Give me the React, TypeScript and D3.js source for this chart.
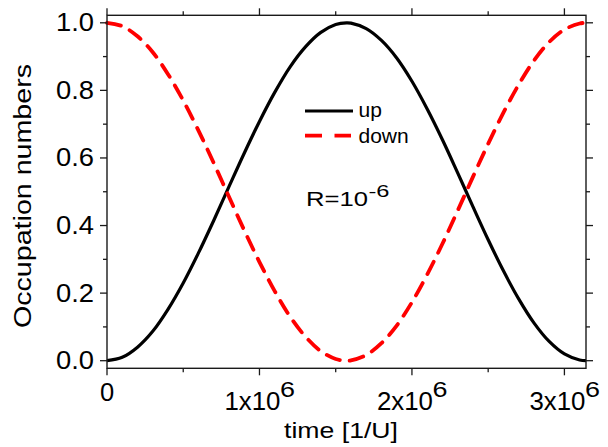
import React from "react";
import * as d3 from "d3";

// time in units of 10^6 [1/U]
const timeM = [0, 0.1, 0.2, 0.3, 0.4, 0.5, 0.6, 0.7, 0.8, 0.9, 1.0, 1.1, 1.2, 1.3, 1.4, 1.5, 1.5708, 1.6, 1.7, 1.8, 1.9, 2.0, 2.1, 2.2, 2.3, 2.4, 2.5, 2.6, 2.7, 2.8, 2.9, 3.0, 3.1, 3.1416];
const upValues = [0, 0.01, 0.04, 0.087, 0.152, 0.23, 0.319, 0.415, 0.515, 0.614, 0.708, 0.794, 0.869, 0.928, 0.971, 0.995, 1.0, 0.999, 0.983, 0.948, 0.896, 0.827, 0.745, 0.654, 0.556, 0.456, 0.358, 0.266, 0.183, 0.112, 0.057, 0.02, 0.002, 0];
const downValues = [1, 0.99, 0.96, 0.913, 0.848, 0.77, 0.681, 0.585, 0.485, 0.386, 0.292, 0.206, 0.131, 0.072, 0.029, 0.005, 0.0, 0.001, 0.017, 0.052, 0.104, 0.173, 0.255, 0.346, 0.444, 0.544, 0.642, 0.734, 0.817, 0.888, 0.943, 0.98, 0.998, 1];

const xMajorTicks = [0, 1, 2, 3];
const xMinorTicks = [0.5, 1.5, 2.5];
const xTickBase = ["0", "1x10", "2x10", "3x10"];
const xTickSup = ["", "6", "6", "6"];
const yMajorTicks = [0, 0.2, 0.4, 0.6, 0.8, 1.0];
const yMinorTicks = [0.1, 0.3, 0.5, 0.7, 0.9];
const yTickLabels = ["0.0", "0.2", "0.4", "0.6", "0.8", "1.0"];
const seriesNames = ["up", "down"];
const xTitle = "time [1/U]";
const yTitle = "Occupation numbers";
const noteBase = "R=10";
const noteSup = "-6";

const FONT = "'Liberation Sans', Arial, sans-serif";

export default function App() {
  const L = 107, R = 586, T = 15.3, B = 368.3;
  const x = d3.scaleLinear().domain([0, 3.1416]).range([L, R]);
  const y = d3.scaleLinear().domain([-0.0225, 1.0222]).range([B, T]);

  const line = d3
    .line<number>()
    .x((_, i) => x(timeM[i]))
    .y((d) => y(d))
    .curve(d3.curveCatmullRom.alpha(0.5));

  const axisColor = "#1a1a1a";
  const majorLen = 7;
  const minorLen = 4;

  return (
    <svg
      width={608}
      height={447}
      style={{ position: "fixed", left: 0, top: 0, background: "#fff" }}
      fontFamily={FONT}
    >
      <rect x={0} y={0} width={608} height={447} fill="#fff" />
      {/* curves */}
      <path d={line(upValues) || ""} fill="none" stroke="#000" strokeWidth={3.2} />
      <path
        d={line(downValues) || ""}
        fill="none"
        stroke="#ff0000"
        strokeWidth={3.8}
        strokeDasharray="14 10"
        strokeLinecap="round"
      />

      {/* frame */}
      <rect x={L} y={T} width={R - L} height={B - T} fill="none" stroke={axisColor} strokeWidth={1.4} />

      {/* x ticks bottom & top */}
      {xMajorTicks.map((t) => (
        <g key={"xm" + t}>
          <line x1={x(t)} x2={x(t)} y1={B} y2={B + majorLen} stroke={axisColor} strokeWidth={1.3} />
          <line x1={x(t)} x2={x(t)} y1={T} y2={T - majorLen} stroke={axisColor} strokeWidth={1.3} />
        </g>
      ))}
      {xMinorTicks.map((t) => (
        <g key={"xn" + t}>
          <line x1={x(t)} x2={x(t)} y1={B} y2={B + minorLen} stroke={axisColor} strokeWidth={1.3} />
          <line x1={x(t)} x2={x(t)} y1={T} y2={T - minorLen} stroke={axisColor} strokeWidth={1.3} />
        </g>
      ))}
      {/* y ticks left & right */}
      {yMajorTicks.map((t) => (
        <g key={"ym" + t}>
          <line x1={L} x2={L - majorLen} y1={y(t)} y2={y(t)} stroke={axisColor} strokeWidth={1.3} />
          <line x1={R} x2={R + majorLen} y1={y(t)} y2={y(t)} stroke={axisColor} strokeWidth={1.3} />
        </g>
      ))}
      {yMinorTicks.map((t) => (
        <g key={"yn" + t}>
          <line x1={L} x2={L - minorLen} y1={y(t)} y2={y(t)} stroke={axisColor} strokeWidth={1.3} />
          <line x1={R} x2={R + minorLen} y1={y(t)} y2={y(t)} stroke={axisColor} strokeWidth={1.3} />
        </g>
      ))}

      {/* y tick labels */}
      {yMajorTicks.map((t, i) => (
        <text
          key={"yl" + t}
          x={94}
          y={y(t) + 8.4}
          fontSize={25.5}
          textAnchor="end"
          textLength={38}
          lengthAdjust="spacingAndGlyphs"
          fill="#000"
        >
          {yTickLabels[i]}
        </text>
      ))}

      {/* x tick labels */}
      {xMajorTicks.map((t, i) =>
        xTickSup[i] === "" ? (
          <text key={"xl" + t} x={x(t)} y={401} fontSize={25.5} textAnchor="middle" fill="#000">
            {xTickBase[i]}
          </text>
        ) : (
          <g key={"xl" + t}>
            <text
              x={x(t) - 35}
              y={410}
              fontSize={25.5}
              textLength={56}
              lengthAdjust="spacingAndGlyphs"
              fill="#000"
            >
              {xTickBase[i]}
            </text>
            <text
              x={x(t) + 20.5}
              y={396.5}
              fontSize={22}
              textLength={15}
              lengthAdjust="spacingAndGlyphs"
              fill="#000"
            >
              {xTickSup[i]}
            </text>
          </g>
        )
      )}

      {/* axis titles */}
      <text
        x={284}
        y={437.5}
        fontSize={22}
        textLength={114}
        lengthAdjust="spacingAndGlyphs"
        fill="#000"
      >
        {xTitle}
      </text>
      <text
        transform="translate(30.5,196) rotate(-90)"
        x={0}
        y={0}
        fontSize={23.5}
        textAnchor="middle"
        textLength={264}
        lengthAdjust="spacingAndGlyphs"
        fill="#000"
      >
        {yTitle}
      </text>

      {/* legend */}
      <line x1={305} x2={353} y1={111} y2={111} stroke="#000" strokeWidth={3.2} />
      <line
        x1={305}
        x2={351}
        y1={135.7}
        y2={135.7}
        stroke="#ff0000"
        strokeWidth={3.8}
        strokeDasharray="17 12.5"
      />
      <text x={358.5} y={117.3} fontSize={21} fill="#000">
        {seriesNames[0]}
      </text>
      <text x={358.5} y={142.7} fontSize={21} fill="#000">
        {seriesNames[1]}
      </text>

      {/* annotation */}
      <text x={306} y={205.7} fontSize={20.5} textLength={62} lengthAdjust="spacingAndGlyphs" fill="#000">
        {noteBase}
      </text>
      <text x={368.5} y={196.7} fontSize={16} textLength={21} lengthAdjust="spacingAndGlyphs" fill="#000">
        {noteSup}
      </text>
    </svg>
  );
}
